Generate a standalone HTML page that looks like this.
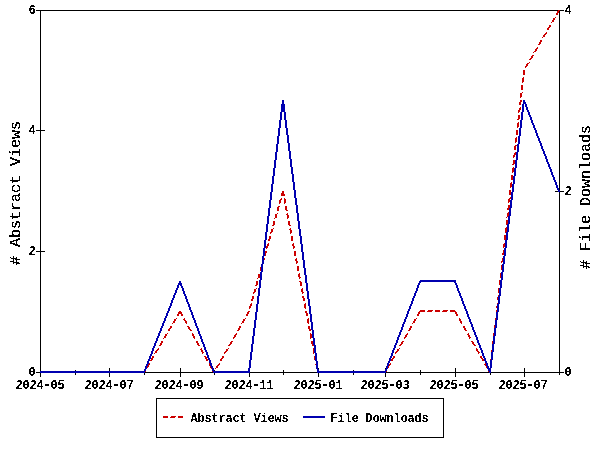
<!DOCTYPE html>
<html><head><meta charset="utf-8"><title>Abstract Views and File Downloads</title><style>html,body{margin:0;padding:0;background:#fff;width:600px;height:450px;overflow:hidden}svg{display:block}text{font-family:"Liberation Mono",monospace}</style></head><body>
<svg width="600" height="450" viewBox="0 0 600 450">
<rect width="600" height="450" fill="#fff"/>
<path shape-rendering="crispEdges" fill="#000" d="M36 10h522v1h-522zM560 10h4v1h-4zM40 11h1v119h-1zM559 11h1v179h-1zM36 130h9v1h-9zM40 131h1v120h-1zM555 191h3v1h-3zM560 191h4v1h-4zM559 192h1v180h-1zM36 251h9v1h-9zM40 252h1v119h-1zM109 368h1v3h-1zM180 368h1v4h-1zM318 368h1v1h-1zM385 368h1v1h-1zM455 368h1v4h-1zM524 368h1v4h-1zM75 370h1v1h-1zM214 370h1v1h-1zM283 370h1v2h-1zM353 370h1v1h-1zM420 370h1v2h-1zM36 372h4v1h-4zM145 372h68v1h-68zM250 372h67v1h-67zM386 372h103v1h-103zM491 372h73v1h-73zM40 373h1v4h-1zM75 373h1v2h-1zM109 373h1v4h-1zM144 373h1v2h-1zM180 373h1v4h-1zM214 373h1v2h-1zM249 373h1v4h-1zM283 373h1v2h-1zM318 373h1v4h-1zM353 373h1v2h-1zM385 373h1v4h-1zM420 373h1v2h-1zM455 373h1v4h-1zM490 373h1v2h-1zM524 373h1v4h-1zM559 373h1v2h-1zM156 398h288v1h-288zM156 399h1v38h-1zM443 399h1v38h-1zM156 437h288v1h-288z"/>
<path shape-rendering="crispEdges" fill="#cc0000" d="M558 10h2v1h-2zM557 11h2v2h-2zM556 13h2v2h-2zM555 17h1v1h-1zM553 18h2v2h-2zM552 20h2v2h-2zM551 22h1v1h-1zM549 25h2v2h-2zM548 27h2v1h-2zM547 28h2v2h-2zM546 32h1v1h-1zM545 33h2v1h-2zM544 34h2v1h-2zM543 35h2v2h-2zM542 37h1v1h-1zM540 40h2v2h-2zM539 42h2v2h-2zM538 44h2v1h-2zM537 47h1v1h-1zM536 48h2v1h-2zM535 49h2v2h-2zM534 51h2v1h-2zM533 52h1v1h-1zM532 55h2v1h-2zM531 56h2v2h-2zM530 58h2v1h-2zM529 59h2v1h-2zM529 62h1v1h-1zM527 63h2v1h-2zM526 64h2v2h-2zM525 66h2v1h-2zM525 67h1v1h-1zM523 70h2v5h-2zM523 77h1v1h-1zM522 78h2v4h-2zM522 82h1v1h-1zM521 85h2v5h-2zM522 92h1v1h-1zM520 93h2v4h-2zM520 97h1v1h-1zM520 100h2v2h-2zM519 102h2v3h-2zM520 107h1v1h-1zM519 108h2v2h-2zM518 110h2v2h-2zM518 112h1v1h-1zM518 115h2v4h-2zM517 119h2v1h-2zM518 122h1v1h-1zM517 123h2v4h-2zM517 127h1v1h-1zM516 130h2v5h-2zM516 137h1v1h-1zM515 138h2v4h-2zM515 142h1v1h-1zM515 145h2v1h-2zM514 146h2v4h-2zM515 152h1v1h-1zM514 153h2v2h-2zM513 155h2v2h-2zM513 157h1v1h-1zM513 160h2v4h-2zM512 164h2v1h-2zM513 167h1v1h-1zM512 168h2v4h-2zM512 172h1v1h-1zM511 175h2v5h-2zM511 182h1v1h-1zM510 183h2v4h-2zM510 187h1v1h-1zM509 190h2v5h-2zM282 191h2v2h-2zM281 193h3v1h-3zM281 194h4v2h-4zM510 197h1v1h-1zM281 198h1v1h-1zM284 198h1v1h-1zM509 198h2v1h-2zM280 199h2v1h-2zM284 199h2v4h-2zM508 199h2v3h-2zM279 200h2v3h-2zM508 202h1v1h-1zM279 203h1v1h-1zM284 203h1v1h-1zM508 205h2v3h-2zM278 206h2v1h-2zM285 206h2v4h-2zM277 207h2v4h-2zM507 208h2v2h-2zM286 210h2v1h-2zM508 212h1v1h-1zM277 213h1v1h-1zM287 213h1v1h-1zM507 213h2v3h-2zM275 214h2v4h-2zM286 214h2v1h-2zM287 215h2v3h-2zM507 216h1v1h-1zM506 217h1v1h-1zM274 218h1v1h-1zM287 218h1v1h-1zM506 220h2v4h-2zM273 221h2v4h-2zM288 221h2v4h-2zM506 224h1v1h-1zM272 225h2v1h-2zM289 225h2v1h-2zM506 227h1v1h-1zM273 228h1v1h-1zM290 228h1v1h-1zM505 228h2v4h-2zM271 229h2v3h-2zM289 229h2v1h-2zM290 230h2v3h-2zM270 232h2v1h-2zM505 232h1v1h-1zM270 233h1v1h-1zM290 233h1v1h-1zM504 235h2v5h-2zM269 236h2v3h-2zM291 236h2v5h-2zM268 239h2v2h-2zM268 243h1v1h-1zM293 243h1v1h-1zM504 243h1v1h-1zM267 244h2v2h-2zM292 244h2v2h-2zM503 244h2v3h-2zM266 246h2v2h-2zM293 246h2v2h-2zM503 247h1v1h-1zM266 248h1v1h-1zM293 248h1v1h-1zM503 250h1v3h-1zM265 251h2v2h-2zM294 251h2v5h-2zM265 253h1v3h-1zM502 253h2v2h-2zM264 258h1v2h-1zM296 258h1v1h-1zM502 258h1v3h-1zM295 259h2v2h-2zM296 261h2v2h-2zM501 261h2v1h-2zM501 262h1v1h-1zM296 263h1v1h-1zM501 265h1v5h-1zM297 266h2v5h-2zM260 267h1v4h-1zM299 273h1v1h-1zM500 273h1v5h-1zM258 274h2v4h-2zM298 274h2v3h-2zM299 277h2v1h-2zM257 278h1v1h-1zM299 278h1v1h-1zM499 280h1v5h-1zM256 281h2v4h-2zM299 281h2v1h-2zM300 282h2v4h-2zM255 285h2v1h-2zM256 288h1v1h-1zM302 288h1v1h-1zM498 288h1v5h-1zM254 289h2v3h-2zM301 289h2v3h-2zM253 292h2v1h-2zM302 292h2v1h-2zM253 293h1v1h-1zM302 293h1v1h-1zM498 295h1v1h-1zM252 296h2v3h-2zM302 296h2v2h-2zM497 297h1v3h-1zM303 298h2v3h-2zM251 299h2v2h-2zM251 303h1v1h-1zM305 303h1v1h-1zM497 303h1v1h-1zM250 304h2v2h-2zM304 304h2v4h-2zM249 306h2v2h-2zM496 306h1v2h-1zM249 308h1v1h-1zM305 308h1v1h-1zM420 310h5v1h-5zM428 310h5v1h-5zM435 310h5v2h-5zM443 310h5v1h-5zM450 310h5v1h-5zM496 310h1v2h-1zM179 311h2v1h-2zM248 311h2v1h-2zM305 311h2v2h-2zM419 311h6v1h-6zM427 311h5v1h-5zM442 311h5v1h-5zM450 311h6v1h-6zM178 312h4v2h-4zM247 312h2v2h-2zM418 312h2v2h-2zM455 312h2v2h-2zM306 313h2v3h-2zM177 314h2v2h-2zM181 314h2v2h-2zM246 314h2v2h-2zM417 314h2v2h-2zM456 314h2v2h-2zM176 318h1v1h-1zM184 318h1v1h-1zM245 318h1v1h-1zM308 318h1v1h-1zM416 318h1v1h-1zM459 318h1v1h-1zM495 318h1v2h-1zM174 319h2v2h-2zM183 319h2v1h-2zM243 319h2v2h-2zM307 319h2v4h-2zM414 319h2v2h-2zM459 319h2v2h-2zM184 320h2v1h-2zM173 321h2v2h-2zM185 321h2v2h-2zM242 321h2v2h-2zM413 321h2v2h-2zM460 321h2v2h-2zM172 323h1v1h-1zM186 323h1v1h-1zM241 323h1v1h-1zM308 323h1v1h-1zM412 323h1v1h-1zM461 323h1v1h-1zM494 325h1v3h-1zM170 326h2v2h-2zM187 326h2v1h-2zM239 326h2v2h-2zM308 326h2v3h-2zM410 326h2v2h-2zM463 326h2v2h-2zM188 327h2v2h-2zM169 328h2v1h-2zM238 328h2v2h-2zM409 328h2v2h-2zM464 328h2v2h-2zM168 329h2v2h-2zM189 329h2v1h-2zM309 329h2v2h-2zM190 330h2v1h-2zM237 330h2v1h-2zM408 330h2v1h-2zM465 330h2v1h-2zM167 333h1v1h-1zM192 333h1v1h-1zM236 333h1v1h-1zM310 333h1v1h-1zM407 333h1v1h-1zM468 333h1v1h-1zM493 333h1v3h-1zM165 334h2v2h-2zM192 334h2v2h-2zM235 334h2v1h-2zM310 334h2v4h-2zM406 334h2v1h-2zM467 334h2v1h-2zM234 335h2v2h-2zM405 335h2v2h-2zM468 335h2v2h-2zM164 336h2v2h-2zM193 336h2v2h-2zM233 337h2v1h-2zM404 337h2v1h-2zM469 337h2v1h-2zM163 338h1v1h-1zM194 338h1v1h-1zM233 338h1v1h-1zM310 338h1v1h-1zM404 338h1v1h-1zM469 338h1v1h-1zM161 341h2v2h-2zM196 341h2v2h-2zM231 341h2v1h-2zM311 341h2v3h-2zM402 341h2v1h-2zM471 341h2v1h-2zM492 341h1v3h-1zM230 342h2v2h-2zM401 342h2v2h-2zM472 342h2v2h-2zM160 343h2v2h-2zM197 343h2v2h-2zM229 344h2v1h-2zM312 344h1v1h-1zM400 344h2v1h-2zM473 344h2v1h-2zM159 345h2v1h-2zM198 345h2v1h-2zM228 345h2v1h-2zM312 345h2v1h-2zM399 345h2v1h-2zM474 345h2v1h-2zM158 348h1v1h-1zM201 348h1v1h-1zM228 348h1v1h-1zM313 348h1v6h-1zM399 348h1v1h-1zM476 348h1v1h-1zM157 349h2v1h-2zM200 349h2v1h-2zM226 349h2v2h-2zM397 349h2v2h-2zM476 349h2v2h-2zM156 350h2v1h-2zM201 350h2v2h-2zM491 350h1v2h-1zM155 351h2v2h-2zM225 351h2v1h-2zM396 351h2v1h-2zM477 351h2v1h-2zM202 352h2v1h-2zM224 352h2v1h-2zM395 352h2v1h-2zM478 352h2v1h-2zM154 353h1v1h-1zM202 353h1v1h-1zM224 353h1v1h-1zM395 353h1v1h-1zM478 353h1v1h-1zM152 356h2v2h-2zM204 356h2v1h-2zM222 356h2v2h-2zM314 356h1v4h-1zM393 356h2v2h-2zM480 356h2v2h-2zM205 357h2v2h-2zM151 358h2v2h-2zM221 358h2v1h-2zM392 358h2v1h-2zM481 358h2v1h-2zM206 359h2v2h-2zM220 359h2v2h-2zM391 359h2v2h-2zM482 359h2v2h-2zM490 359h1v1h-1zM150 360h2v1h-2zM149 363h1v1h-1zM209 363h1v3h-1zM219 363h1v1h-1zM390 363h1v1h-1zM485 363h1v1h-1zM148 364h2v1h-2zM218 364h2v1h-2zM315 364h1v1h-1zM389 364h2v1h-2zM484 364h2v1h-2zM148 365h1v1h-1zM217 365h2v1h-2zM389 365h1v1h-1zM485 365h1v1h-1zM147 366h2v1h-2zM210 366h1v2h-1zM216 366h2v2h-2zM388 366h1v2h-1zM486 366h1v2h-1zM147 367h1v1h-1zM211 368h1v1h-1zM215 368h1v1h-1zM145 371h1v1h-1zM212 371h1v1h-1zM386 371h1v1h-1zM488 371h1v1h-1zM163 416h5v2h-5zM171 416h5v1h-5zM178 416h5v2h-5zM170 417h5v1h-5z"/>
<path shape-rendering="crispEdges" fill="#0000b0" d="M282 100h2v4h-2zM523 100h2v2h-2zM523 102h3v2h-3zM281 104h4v8h-4zM522 104h2v8h-2zM525 104h2v3h-2zM526 107h2v3h-2zM527 110h2v2h-2zM280 112h2v8h-2zM284 112h2v8h-2zM521 112h2v8h-2zM528 112h2v3h-2zM529 115h2v2h-2zM530 117h2v3h-2zM279 120h2v8h-2zM285 120h2v8h-2zM520 120h2v8h-2zM531 120h2v3h-2zM532 123h2v2h-2zM533 125h2v3h-2zM278 128h2v8h-2zM286 128h2v7h-2zM519 128h2v8h-2zM534 128h2v2h-2zM535 130h2v3h-2zM536 133h2v3h-2zM287 135h2v8h-2zM277 136h2v8h-2zM518 136h2v8h-2zM537 136h2v2h-2zM538 138h2v3h-2zM539 141h2v2h-2zM288 143h2v8h-2zM540 143h2v3h-2zM276 144h2v8h-2zM517 144h2v8h-2zM541 146h2v3h-2zM542 149h2v2h-2zM289 151h2v8h-2zM543 151h2v3h-2zM275 152h2v8h-2zM516 152h2v8h-2zM544 154h2v2h-2zM545 156h2v3h-2zM290 159h2v8h-2zM546 159h2v3h-2zM274 160h2v8h-2zM515 160h2v8h-2zM547 162h2v2h-2zM548 164h2v3h-2zM291 167h2v7h-2zM549 167h2v2h-2zM273 168h2v8h-2zM514 168h2v8h-2zM550 169h2v3h-2zM551 172h2v3h-2zM292 174h2v8h-2zM552 175h2v2h-2zM272 176h2v8h-2zM513 176h2v8h-2zM553 177h2v3h-2zM554 180h2v2h-2zM293 182h2v8h-2zM555 182h2v3h-2zM271 184h2v8h-2zM512 184h2v8h-2zM556 185h2v3h-2zM557 188h2v2h-2zM294 190h2v8h-2zM558 190h2v2h-2zM270 192h2v8h-2zM511 192h2v8h-2zM295 198h2v7h-2zM269 200h2v8h-2zM510 200h2v8h-2zM296 205h2v8h-2zM268 208h2v8h-2zM509 208h2v8h-2zM297 213h2v8h-2zM267 216h2v8h-2zM508 216h2v8h-2zM298 221h2v8h-2zM266 224h2v8h-2zM507 224h2v8h-2zM299 229h2v7h-2zM265 232h2v8h-2zM506 232h2v8h-2zM300 236h2v8h-2zM264 240h2v8h-2zM505 240h2v8h-2zM301 244h2v8h-2zM263 248h2v8h-2zM504 248h2v8h-2zM302 252h2v8h-2zM262 256h2v8h-2zM503 256h2v8h-2zM303 260h2v8h-2zM261 264h2v8h-2zM502 264h2v8h-2zM304 268h2v7h-2zM260 272h2v8h-2zM501 272h2v8h-2zM305 275h2v8h-2zM259 280h2v8h-2zM420 280h36v1h-36zM500 280h2v8h-2zM179 281h2v2h-2zM419 281h37v1h-37zM419 282h2v1h-2zM454 282h2v1h-2zM178 283h4v2h-4zM306 283h2v8h-2zM418 283h2v2h-2zM455 283h2v2h-2zM177 285h2v3h-2zM180 285h2v1h-2zM417 285h2v3h-2zM456 285h2v3h-2zM181 286h2v2h-2zM176 288h2v2h-2zM182 288h2v3h-2zM258 288h2v8h-2zM416 288h2v3h-2zM457 288h2v3h-2zM499 288h2v8h-2zM175 290h2v3h-2zM183 291h2v3h-2zM307 291h2v8h-2zM415 291h2v2h-2zM458 291h2v2h-2zM174 293h2v2h-2zM414 293h2v3h-2zM459 293h2v3h-2zM184 294h2v2h-2zM173 295h2v3h-2zM185 296h2v3h-2zM257 296h2v8h-2zM413 296h2v2h-2zM460 296h2v2h-2zM498 296h2v8h-2zM172 298h2v2h-2zM412 298h2v3h-2zM461 298h2v3h-2zM186 299h2v3h-2zM308 299h2v7h-2zM171 300h2v3h-2zM411 301h2v3h-2zM462 301h2v3h-2zM187 302h2v2h-2zM170 303h2v3h-2zM188 304h2v3h-2zM256 304h2v8h-2zM410 304h2v2h-2zM463 304h2v2h-2zM497 304h2v8h-2zM169 306h2v2h-2zM309 306h2v8h-2zM409 306h2v3h-2zM464 306h2v3h-2zM189 307h2v3h-2zM168 308h2v3h-2zM408 309h2v2h-2zM465 309h2v2h-2zM190 310h2v2h-2zM167 311h2v2h-2zM407 311h2v3h-2zM466 311h2v3h-2zM191 312h2v3h-2zM255 312h2v8h-2zM496 312h2v8h-2zM166 313h2v3h-2zM310 314h2v8h-2zM406 314h2v3h-2zM467 314h2v3h-2zM192 315h2v3h-2zM165 316h2v2h-2zM405 317h2v2h-2zM468 317h2v2h-2zM164 318h2v3h-2zM193 318h2v2h-2zM404 319h2v3h-2zM469 319h2v3h-2zM194 320h2v3h-2zM254 320h2v8h-2zM495 320h2v8h-2zM163 321h2v2h-2zM311 322h2v8h-2zM403 322h2v2h-2zM470 322h2v2h-2zM162 323h2v3h-2zM195 323h2v3h-2zM402 324h2v3h-2zM471 324h2v3h-2zM161 326h2v2h-2zM196 326h2v2h-2zM401 327h2v3h-2zM472 327h2v3h-2zM160 328h2v3h-2zM197 328h2v3h-2zM253 328h2v8h-2zM494 328h2v8h-2zM312 330h2v8h-2zM400 330h2v2h-2zM473 330h2v2h-2zM159 331h2v2h-2zM198 331h2v3h-2zM399 332h2v3h-2zM474 332h2v3h-2zM158 333h2v3h-2zM199 334h2v2h-2zM398 335h2v2h-2zM475 335h2v2h-2zM157 336h2v2h-2zM200 336h2v3h-2zM252 336h2v8h-2zM493 336h2v8h-2zM397 337h2v3h-2zM476 337h2v3h-2zM156 338h2v3h-2zM313 338h2v7h-2zM201 339h2v3h-2zM396 340h2v3h-2zM477 340h2v3h-2zM155 341h2v2h-2zM202 342h2v2h-2zM154 343h2v3h-2zM395 343h2v2h-2zM478 343h2v2h-2zM203 344h2v3h-2zM251 344h2v8h-2zM492 344h2v8h-2zM314 345h2v8h-2zM394 345h2v3h-2zM479 345h2v3h-2zM153 346h2v2h-2zM204 347h2v3h-2zM152 348h2v3h-2zM393 348h2v2h-2zM480 348h2v2h-2zM205 350h2v2h-2zM392 350h2v3h-2zM481 350h2v3h-2zM151 351h2v3h-2zM206 352h2v3h-2zM250 352h2v8h-2zM491 352h2v8h-2zM315 353h2v8h-2zM391 353h2v3h-2zM482 353h2v3h-2zM150 354h2v2h-2zM207 355h2v3h-2zM149 356h2v3h-2zM390 356h2v2h-2zM483 356h2v2h-2zM208 358h2v2h-2zM389 358h2v3h-2zM484 358h2v3h-2zM148 359h2v2h-2zM209 360h2v3h-2zM249 360h2v8h-2zM490 360h2v8h-2zM147 361h2v3h-2zM316 361h2v8h-2zM388 361h2v2h-2zM485 361h2v2h-2zM210 363h2v3h-2zM387 363h2v3h-2zM486 363h2v3h-2zM146 364h2v2h-2zM145 366h2v3h-2zM211 366h2v2h-2zM386 366h2v3h-2zM487 366h2v2h-2zM212 368h2v3h-2zM248 368h2v3h-2zM487 368h4v1h-4zM144 369h2v2h-2zM317 369h2v2h-2zM385 369h2v2h-2zM488 369h3v2h-3zM40 371h105v2h-105zM213 371h37v2h-37zM317 371h69v2h-69zM489 371h2v2h-2zM303 416h22v2h-22z"/>
<filter id="f_yl" x="0" y="0" width="600" height="450" filterUnits="userSpaceOnUse" color-interpolation-filters="sRGB"><feComponentTransfer><feFuncA type="discrete" tableValues="0 1"/></feComponentTransfer></filter>
<g font-size="12.0" font-weight="bold" letter-spacing="-0.200" fill="#000" filter="url(#f_yl)">
<text transform="translate(28.50,375.50) scale(1,1.05)">0</text>
<text transform="translate(28.50,254.50) scale(1,1.05)">2</text>
<text transform="translate(28.50,133.50) scale(1,1.05)">4</text>
<text transform="translate(28.50,13.50) scale(1,1.05)">6</text>
<text transform="translate(564.50,375.50) scale(1,1.05)">0</text>
<text transform="translate(564.50,194.50) scale(1,1.05)">2</text>
<text transform="translate(564.50,13.50) scale(1,1.05)">4</text>
</g>
<filter id="f_xl" x="0" y="0" width="600" height="450" filterUnits="userSpaceOnUse" color-interpolation-filters="sRGB"><feComponentTransfer><feFuncA type="discrete" tableValues="0 1"/></feComponentTransfer></filter>
<g font-size="12.0" font-weight="bold" letter-spacing="-0.200" fill="#000" filter="url(#f_xl)">
<text transform="translate(15.50,388.50) scale(1,1.05)">2024<tspan stroke="#000" stroke-width="0.5">-</tspan>05</text>
<text transform="translate(84.50,388.50) scale(1,1.05)">2024<tspan stroke="#000" stroke-width="0.5">-</tspan>07</text>
<text transform="translate(154.50,388.50) scale(1,1.05)">2024<tspan stroke="#000" stroke-width="0.5">-</tspan>09</text>
<text transform="translate(224.50,388.50) scale(1,1.05)">2024<tspan stroke="#000" stroke-width="0.5">-</tspan>11</text>
<text transform="translate(293.50,388.50) scale(1,1.05)">2025<tspan stroke="#000" stroke-width="0.5">-</tspan>01</text>
<text transform="translate(360.50,388.50) scale(1,1.05)">2025<tspan stroke="#000" stroke-width="0.5">-</tspan>03</text>
<text transform="translate(429.50,388.50) scale(1,1.05)">2025<tspan stroke="#000" stroke-width="0.5">-</tspan>05</text>
<text transform="translate(498.50,388.50) scale(1,1.05)">2025<tspan stroke="#000" stroke-width="0.5">-</tspan>07</text>
</g>
<filter id="f_lg" x="0" y="0" width="600" height="450" filterUnits="userSpaceOnUse" color-interpolation-filters="sRGB"><feComponentTransfer><feFuncA type="discrete" tableValues="0 1"/></feComponentTransfer></filter>
<g font-size="12.0" font-weight="bold" letter-spacing="-0.200" fill="#000" filter="url(#f_lg)">
<text x="190.50" y="421.50">Abstract Views</text>
<text x="330.50" y="421.50">File Downloads</text>
</g>
<filter id="fa" x="0" y="0" width="600" height="450" filterUnits="userSpaceOnUse" color-interpolation-filters="sRGB"><feComponentTransfer><feFuncA type="discrete" tableValues="0 1 1"/></feComponentTransfer></filter>
<g font-size="15.0" font-weight="normal" letter-spacing="0.000" fill="#000" filter="url(#fa)">
<text transform="translate(20.00,265.00) rotate(-90)">&#35; Abstract Views</text>
<text transform="translate(590.00,269.00) rotate(-90)">&#35; File Downloads</text>
</g>
</svg></body></html>
